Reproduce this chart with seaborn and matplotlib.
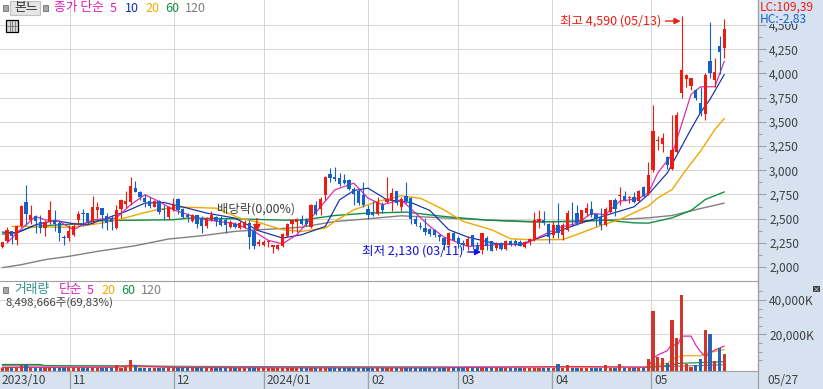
import matplotlib
matplotlib.use("Agg")
import pandas as pd
import seaborn as sns
from matplotlib import pyplot as plt
from matplotlib import patches as mpatches
from matplotlib.ticker import FixedLocator, FuncFormatter

# candle values, one per trading day
open_p = [2206, 2265, 2367, 2282, 2426, 2673, 2481, 2522, 2464, 2402,
          2470, 2488, 2454, 2309, 2299, 2333, 2481, 2557, 2557, 2470,
          2591, 2608, 2522, 2505, 2399, 2598, 2653, 2670, 2821, 2776,
          2715, 2684, 2625, 2684, 2598, 2512, 2584, 2701, 2601, 2539,
          2478, 2539, 2505, 2419, 2488, 2515, 2495, 2488, 2412, 2447,
          2402, 2412, 2454, 2367, 2234, 2227, 2254, 2206, 2182, 2213,
          2316, 2447, 2470, 2495, 2488, 2412, 2643, 2598, 2739, 2962,
          2928, 2917, 2900, 2900, 2804, 2790, 2746, 2601, 2567, 2550,
          2643, 2667, 2694, 2780, 2625, 2735, 2711, 2498, 2426, 2402,
          2392, 2385, 2333, 2299, 2230, 2350, 2299, 2247, 2220, 2326,
          2230, 2172, 2299, 2265, 2192, 2247, 2186, 2265, 2265, 2254,
          2206, 2254, 2275, 2470, 2488, 2446, 2326, 2436, 2326, 2381,
          2560, 2553, 2456, 2560, 2601, 2549, 2518, 2429, 2566, 2687,
          2735, 2738, 2708, 2725, 2680, 2828, 2749, 2997, 3299, 3275,
          3137, 3014, 3186, 3794, 3938, 3869, 3825, 3698, 3579, 4133,
          3928, 4287, 4263]
high_p = [2254, 2412, 2374, 2433, 2643, 2849, 2643, 2539, 2539, 2488,
          2684, 2591, 2488, 2333, 2436, 2470, 2581, 2598, 2557, 2735,
          2667, 2608, 2557, 2539, 2643, 2701, 2780, 2928, 2893, 2783,
          2756, 2722, 2694, 2694, 2643, 2632, 2711, 2708, 2608, 2560,
          2546, 2539, 2522, 2512, 2574, 2529, 2522, 2505, 2481, 2470,
          2481, 2481, 2488, 2436, 2285, 2282, 2282, 2230, 2235, 2350,
          2454, 2495, 2505, 2539, 2505, 2650, 2677, 2728, 2935, 3020,
          3030, 2969, 2962, 2907, 2825, 2804, 2876, 2643, 2677, 2728,
          2667, 2928, 2814, 2790, 2722, 2876, 2722, 2522, 2464, 2505,
          2402, 2395, 2340, 2306, 2361, 2368, 2316, 2282, 2323, 2333,
          2254, 2350, 2323, 2271, 2254, 2254, 2282, 2275, 2289, 2275,
          2265, 2299, 2567, 2584, 2581, 2456, 2474, 2656, 2456, 2594,
          2670, 2645, 2594, 2663, 2680, 2560, 2611, 2622, 2697, 2714,
          2824, 2790, 2738, 2776, 2800, 2835, 3086, 3674, 3358, 3385,
          3151, 3568, 3606, 4590, 3992, 3955, 3835, 3862, 4000, 4526,
          4160, 4382, 4564]
low_p = [2196, 2254, 2240, 2230, 2412, 2436, 2447, 2350, 2350, 2316,
         2447, 2368, 2265, 2230, 2265, 2323, 2436, 2419, 2447, 2447,
         2505, 2402, 2378, 2385, 2392, 2505, 2608, 2643, 2770, 2694,
         2618, 2605, 2618, 2550, 2488, 2495, 2574, 2550, 2505, 2470,
         2470, 2402, 2350, 2402, 2474, 2426, 2419, 2350, 2402, 2399,
         2395, 2402, 2186, 2186, 2213, 2213, 2203, 2144, 2180, 2206,
         2309, 2350, 2357, 2436, 2419, 2405, 2533, 2540, 2694, 2883,
         2893, 2838, 2855, 2797, 2643, 2643, 2625, 2495, 2522, 2540,
         2557, 2660, 2574, 2643, 2574, 2660, 2447, 2419, 2395, 2333,
         2323, 2309, 2265, 2179, 2213, 2265, 2196, 2179, 2179, 2189,
         2165, 2130, 2179, 2161, 2179, 2179, 2179, 2213, 2213, 2213,
         2199, 2230, 2268, 2402, 2436, 2243, 2302, 2302, 2284, 2370,
         2422, 2429, 2450, 2525, 2518, 2422, 2381, 2422, 2560, 2525,
         2645, 2680, 2656, 2656, 2673, 2721, 2742, 2985, 3206, 3186,
         3014, 3007, 3180, 3743, 3859, 3828, 3722, 3555, 3520, 3955,
         3862, 3989, 4160]
close_p = [2254, 2385, 2323, 2426, 2632, 2550, 2539, 2474, 2405, 2470,
           2591, 2447, 2350, 2302, 2367, 2426, 2550, 2550, 2470, 2625,
           2625, 2533, 2454, 2470, 2591, 2694, 2684, 2838, 2776, 2718,
           2670, 2632, 2677, 2570, 2584, 2625, 2643, 2584, 2512, 2520,
           2539, 2447, 2426, 2505, 2539, 2474, 2430, 2436, 2470, 2409,
           2454, 2460, 2309, 2213, 2261, 2261, 2261, 2230, 2230, 2340,
           2447, 2488, 2495, 2447, 2447, 2643, 2550, 2701, 2928, 2921,
           2914, 2855, 2866, 2804, 2756, 2660, 2643, 2540, 2540, 2667,
           2591, 2701, 2763, 2660, 2701, 2677, 2495, 2447, 2409, 2357,
           2344, 2330, 2306, 2230, 2350, 2275, 2237, 2223, 2289, 2213,
           2180, 2350, 2213, 2168, 2240, 2189, 2268, 2223, 2237, 2220,
           2254, 2289, 2488, 2495, 2454, 2312, 2429, 2353, 2436, 2560,
           2553, 2456, 2584, 2611, 2542, 2508, 2429, 2604, 2687, 2604,
           2741, 2697, 2714, 2673, 2790, 2732, 2955, 3405, 3317, 3337,
           3058, 3206, 3568, 4030, 3986, 3948, 3743, 3596, 3979, 4000,
           4013, 4218, 4461]
volume_k = [500, 1000, 600, 500, 2100, 2100, 700, 600, 500, 600,
            600, 500, 500, 500, 600, 600, 500, 500, 500, 500,
            500, 500, 500, 500, 2100, 700, 800, 5000, 2100, 600,
            500, 500, 500, 500, 500, 500, 500, 500, 500, 500,
            500, 500, 500, 500, 500, 500, 500, 500, 500, 500,
            500, 500, 500, 500, 500, 500, 500, 500, 500, 500,
            500, 500, 500, 500, 500, 600, 500, 500, 700, 500,
            500, 500, 500, 500, 500, 500, 500, 500, 500, 500,
            500, 500, 500, 500, 500, 500, 500, 500, 500, 500,
            500, 500, 500, 500, 600, 500, 500, 500, 500, 500,
            500, 600, 500, 500, 500, 500, 500, 500, 500, 500,
            500, 500, 700, 600, 500, 500, 500, 2540, 500, 2150,
            500, 500, 500, 500, 500, 500, 500, 2150, 500, 500,
            2700, 500, 500, 500, 600, 700, 5650, 33580, 6600, 6400,
            3100, 28340, 17700, 42900, 2700, 1200, 2150, 5650, 22500, 20000,
            4500, 12200, 8550]

# moving averages at the bends
ma5_at = [1, 3, 7, 9, 12, 15, 19, 24, 27, 30, 33, 36, 42, 49, 53, 56, 59, 62, 65, 70,
          74, 77, 80, 84, 87, 90, 93, 98, 104, 110, 113, 117, 121, 124, 127, 130, 134,
          136, 138, 141, 143, 145, 147, 150, 152]
ma5 = [2247, 2350, 2522, 2488, 2470, 2385, 2488, 2505, 2643, 2746, 2677, 2591, 2495, 2447,
       2368, 2275, 2240, 2333, 2505, 2797, 2866, 2711, 2643, 2694, 2557, 2419, 2309, 2213,
       2230, 2237, 2310, 2405, 2450, 2553, 2542, 2680, 2707, 2766, 2972, 3162, 3470, 3784,
       3862, 3862, 4126]
ma10_at = [0, 3, 7, 11, 15, 18, 22, 26, 30, 34, 39, 43, 49, 54, 59, 63, 68, 71, 74, 77,
           81, 86, 90, 94, 98, 104, 109, 113, 117, 122, 126, 133, 136, 140, 145, 147, 149, 152]
ma10 = [2361, 2350, 2436, 2481, 2447, 2436, 2505, 2574, 2660, 2667, 2608, 2557, 2505, 2374,
        2299, 2333, 2419, 2694, 2790, 2814, 2694, 2667, 2584, 2385, 2309, 2240, 2230, 2300,
        2370, 2456, 2518, 2622, 2749, 2972, 3425, 3596, 3733, 3989]
ma20_at = [2, 7, 10, 14, 17, 21, 25, 29, 33, 38, 45, 50, 54, 59, 63, 68, 70, 74, 79, 84,
           88, 93, 97, 103, 107, 112, 118, 121, 126, 130, 134, 136, 138, 141, 144, 147, 150, 152]
ma20 = [2419, 2419, 2412, 2409, 2426, 2454, 2495, 2550, 2598, 2618, 2608, 2505, 2460, 2385,
        2368, 2402, 2471, 2591, 2677, 2735, 2711, 2591, 2471, 2385, 2292, 2280, 2284, 2336,
        2429, 2491, 2584, 2628, 2714, 2800, 3007, 3196, 3420, 3535]
ma60_at = [0, 3, 6, 9, 12, 17, 20, 24, 36, 39, 49, 59, 63, 70, 77, 85, 93, 102, 112, 120,
           127, 133, 136, 141, 145, 148, 152]
ma60 = [2340, 2357, 2412, 2426, 2436, 2447, 2478, 2481, 2488, 2505, 2498, 2484, 2484, 2532,
        2557, 2567, 2522, 2484, 2464, 2474, 2484, 2456, 2453, 2508, 2584, 2697, 2776]
ma120_at = [0, 4, 9, 14, 20, 28, 35, 42, 49, 54, 59, 63, 70, 77, 84, 91, 98, 105, 112, 120,
            127, 136, 141, 147, 152]
ma120 = [1993, 2024, 2076, 2110, 2161, 2220, 2289, 2323, 2368, 2385, 2398, 2412, 2470, 2498,
         2529, 2512, 2495, 2481, 2470, 2467, 2484, 2508, 2532, 2604, 2660]

vol5_at = [0, 24, 27, 30, 36, 60, 90, 115, 121, 135, 136, 137, 138, 140, 141, 142, 143, 145,
           146, 147, 148, 149, 150, 152]
vol5 = [800, 900, 2100, 1500, 700, 550, 550, 1200, 1300, 900, 1000, 6000, 8000, 10500, 14800,
        12900, 19000, 19000, 13800, 9900, 7000, 9300, 10900, 13200]
vol20_at = [0, 30, 60, 110, 135, 137, 140, 141, 143, 147, 148, 152]
vol20 = [800, 1000, 600, 650, 800, 2500, 3100, 5400, 7600, 7600, 8900, 11200]
vol60_at = [0, 8, 9, 30, 50, 135, 141, 142, 152]
vol60 = [2500, 2500, 1800, 1500, 900, 800, 2100, 3100, 4100]
vol120_at = [0, 50, 135, 152]
vol120 = [1800, 1300, 800, 2400]

month_pos = [14.25, 36.15, 55.1, 77.0, 96.0, 115.7, 136.6]
month_labels = ["11", "12", "2024/01", "02", "03", "04", "05"]
price_ticks = [2000, 2250, 2500, 2750, 3000, 3250, 3500, 3750, 4000, 4250, 4500]
vol_ticks = [20000, 40000]

W, H = 823, 389
BAND = "#d6e2f0"
GRID = "#d6d6d6"
EDGE = "#a0a0a0"
RED = "#ee1c10"
BLUE = "#1460c8"
TEXT = "#404040"
MA_COLORS = {5: "#e020b0", 10: "#1030a8", 20: "#f0a800", 60: "#109040", 120: "#808080"}
IDX_PX = 4.75
FIRST_PX = 2.3


def px_axes(fig, left, top, right, bottom):
    return fig.add_axes([left / W, 1 - bottom / H, (right - left) / W, (bottom - top) / H])


def label(fig, x, y, s, color=TEXT, size=9.0, **kw):
    return fig.text(x / W, 1 - y / H, s, color=color, fontsize=size, va="center", ha="left", **kw)


def draw_ma(ax, at, values, color, lw=0.85):
    sns.lineplot(x=at, y=values, color=color, lw=lw, ax=ax, legend=False, errorbar=None,
                 estimator=None, sort=False)


sns.set_style("white")
plt.rcParams["font.family"] = ["Noto Sans CJK KR", "DejaVu Sans"]

fig = plt.figure(figsize=(W / 100, H / 100), dpi=100, facecolor=BAND)
ax = px_axes(fig, 0, 0, 758, 281)
ax_v = px_axes(fig, 0, 281, 758, 371)

xlim = (-FIRST_PX / IDX_PX, (758 - FIRST_PX) / IDX_PX)

# price panel
days = list(range(len(open_p)))
for a in (ax, ax_v):
    a.set_facecolor("white")
    a.set_axisbelow(True)
    a.xaxis.set_major_locator(FixedLocator(month_pos))
    a.grid(True, color=GRID, lw=0.72)

for i in days:
    col = RED if close_p[i] >= open_p[i] else BLUE
    ax.vlines(i, low_p[i], high_p[i], color=col, lw=0.8, zorder=3)
    ax.bar(i, max(abs(close_p[i] - open_p[i]), 10), bottom=min(open_p[i], close_p[i]),
           width=0.7, color=col, lw=0, zorder=3)

draw_ma(ax, ma120_at, ma120, MA_COLORS[120], 1.0)
draw_ma(ax, ma60_at, ma60, MA_COLORS[60], 1.0)
draw_ma(ax, ma20_at, ma20, MA_COLORS[20], 1.0)
draw_ma(ax, ma10_at, ma10, MA_COLORS[10])
draw_ma(ax, ma5_at, ma5, MA_COLORS[5])

ax.set_xlim(xlim)
ax.set_ylim(2000 - (281 - 267) / 0.0968, 2000 + 267 / 0.0968)
ax.yaxis.tick_right()
ax.set_yticks(price_ticks)
ax.yaxis.set_minor_locator(FixedLocator([p + 125 for p in price_ticks]))
ax.yaxis.set_major_formatter(FuncFormatter(lambda v, _: f"{int(v):,}"))
ax.tick_params(axis="y", which="major", length=6, width=0.8, color=EDGE, labelcolor=TEXT,
               labelsize=8.6, pad=2, right=True)
ax.tick_params(axis="y", which="minor", length=3, width=0.8, color=EDGE, right=True)
ax.tick_params(axis="x", length=0, labelbottom=False)

# volume panel
tab = pd.DataFrame({"day": days, "vol": volume_k,
                    "up": [c >= o for c, o in zip(close_p, open_p)]})
sns.barplot(data=tab, x="day", y="vol", hue="up", palette={True: RED, False: BLUE},
            dodge=False, native_scale=True, width=0.7, legend=False, ax=ax_v, zorder=3, lw=0)
floor = -1300
for p in ax_v.patches:
    p.set_height(p.get_height() - floor)
    p.set_y(floor)

draw_ma(ax_v, vol120_at, vol120, MA_COLORS[120])
draw_ma(ax_v, vol60_at, vol60, MA_COLORS[60])
draw_ma(ax_v, vol20_at, vol20, MA_COLORS[20])
draw_ma(ax_v, vol5_at, vol5, MA_COLORS[5])

ax_v.set_xlim(xlim)
ax_v.set_ylim(floor, 20000 + (334.3 - 281) / 34.3 * 20000)
ax_v.set_xlabel("")
ax_v.set_ylabel("")
ax_v.yaxis.tick_right()
ax_v.set_yticks(vol_ticks)
ax_v.yaxis.set_minor_locator(FixedLocator([5000, 10000, 15000, 25000, 30000, 35000, 45000]))
ax_v.yaxis.set_major_formatter(FuncFormatter(lambda v, _: f"{int(v):,}K"))
ax_v.tick_params(axis="y", which="major", length=6, width=0.8, color=EDGE, labelcolor=TEXT,
                 labelsize=8.6, pad=2, right=True)
ax_v.tick_params(axis="y", which="minor", length=3, width=0.8, color=EDGE, right=True)
ax_v.set_xticks(month_pos)
ax_v.set_xticklabels([])
ax_v.tick_params(axis="x", length=18, width=0.9, color=EDGE, bottom=True)

for a in (ax, ax_v):
    for side, sp in a.spines.items():
        sp.set_color(EDGE)
        sp.set_linewidth(0.8)
    a.spines["left"].set_visible(False)
ax.spines["top"].set_visible(False)
ax.spines["bottom"].set_visible(False)

# hide the top of the 4,500 label under the LC/HC box
fig.add_artist(mpatches.Rectangle((759 / W, 1 - 24 / H), 64 / W, 24 / H, transform=fig.transFigure,
                                  facecolor=BAND, edgecolor="none", zorder=5))
label(fig, 760, 7, "LC:109,39", RED, 8.6, zorder=6)
label(fig, 760, 19, "HC:-2,83", BLUE, 8.6, zorder=6)
fig.add_artist(plt.Line2D([758 / W, 758 / W], [0, 1], color=EDGE, lw=0.9, zorder=6))

# bottom time band
label(fig, 2, 380, "2023/10", TEXT, 8.6)
for pos, lab in zip(month_pos, month_labels):
    label(fig, FIRST_PX + pos * IDX_PX + 3, 380, lab, TEXT, 8.6)
label(fig, 767, 380, "05/27", TEXT, 8.6)

# header of the price panel
fig.add_artist(mpatches.Rectangle((10 / W, 1 - 15 / H), 30 / W, 14 / H, transform=fig.transFigure,
                                  facecolor="#e6e6e6", edgecolor="#c0c0c0", lw=0.8, zorder=4))
for sq_x, sq_y in [(3, 5), (43, 5), (3, 287)]:
    fig.add_artist(mpatches.Rectangle((sq_x / W, 1 - (sq_y + 6) / H), 5 / W, 6 / H, transform=fig.transFigure,
                                      facecolor="#a8a8a8", edgecolor="#707070", lw=0.6, zorder=4))
fig.add_artist(mpatches.Rectangle((6 / W, 1 - 32 / H), 12 / W, 12 / H, transform=fig.transFigure,
                                  facecolor="#d8d8d8", edgecolor="black", lw=0.9, zorder=4))
for gx in (9.5, 12, 14.5):
    fig.add_artist(plt.Line2D([gx / W, gx / W], [1 - 31 / H, 1 - 21 / H], color="#707070", lw=0.6, zorder=5))
fig.add_artist(plt.Line2D([7 / W, 17 / W], [1 - 26 / H, 1 - 26 / H], color="#707070", lw=0.6, zorder=5))

label(fig, 14, 8, "본느", "#303030", 9.2, zorder=5)
label(fig, 54, 8, "종가 단순", MA_COLORS[5], 9.2, zorder=5)
label(fig, 110, 8, "5", MA_COLORS[5], zorder=5)
label(fig, 125, 8, "10", MA_COLORS[10], zorder=5)
label(fig, 145, 8, "20", MA_COLORS[20], zorder=5)
label(fig, 165, 8, "60", MA_COLORS[60], zorder=5)
label(fig, 185, 8, "120", MA_COLORS[120], zorder=5)

# header of the volume panel
label(fig, 14, 290, "거래량", "#2f8f8f", 9.2, zorder=5)
label(fig, 59, 290, "단순", MA_COLORS[5], 9.2, zorder=5)
label(fig, 87, 290, "5", MA_COLORS[5], zorder=5)
label(fig, 101, 290, "20", MA_COLORS[20], zorder=5)
label(fig, 121, 290, "60", MA_COLORS[60], zorder=5)
label(fig, 141, 290, "120", MA_COLORS[120], zorder=5)
label(fig, 5, 303, "8,498,666주(69,83%)", TEXT, 8.2, zorder=5)

# expand button of the volume panel
fig.add_artist(mpatches.Rectangle((813 / W, 1 - 292 / H), 7 / W, 6 / H, transform=fig.transFigure,
                                  facecolor="#404040", edgecolor="none", zorder=5))
fig.text(816.5 / W, 1 - 289 / H, "×", color="white", fontsize=5, ha="center", va="center", zorder=6)

# notes on the chart
label(fig, 217, 209, "배당락(0,00%)", TEXT, 8.9, zorder=5)
label(fig, 362, 251, "최저 2,130 (03/11)", "#1010e0", 9.0, zorder=5)
label(fig, 560, 21, "최고 4,590 (05/13)", RED, 9.0, zorder=5)
ax.annotate("", xy=(100.8, 2155), xytext=(98.0, 2155), annotation_clip=False, zorder=6,
            arrowprops=dict(arrowstyle="-|>", color="#1010e0", lw=1, shrinkA=0, shrinkB=0, mutation_scale=9))
ax.annotate("", xy=(142.8, 4541), xytext=(139.6, 4541), zorder=6,
            arrowprops=dict(arrowstyle="-|>", color=RED, lw=1, shrinkA=0, shrinkB=0, mutation_scale=9))
ax.annotate("", xy=(53.6, 2360), xytext=(53.6, 2500), zorder=6,
            arrowprops=dict(arrowstyle="-|>", color=RED, lw=1, shrinkA=0, shrinkB=0, mutation_scale=11))

fig.savefig("out.png", dpi=100, facecolor=BAND)
